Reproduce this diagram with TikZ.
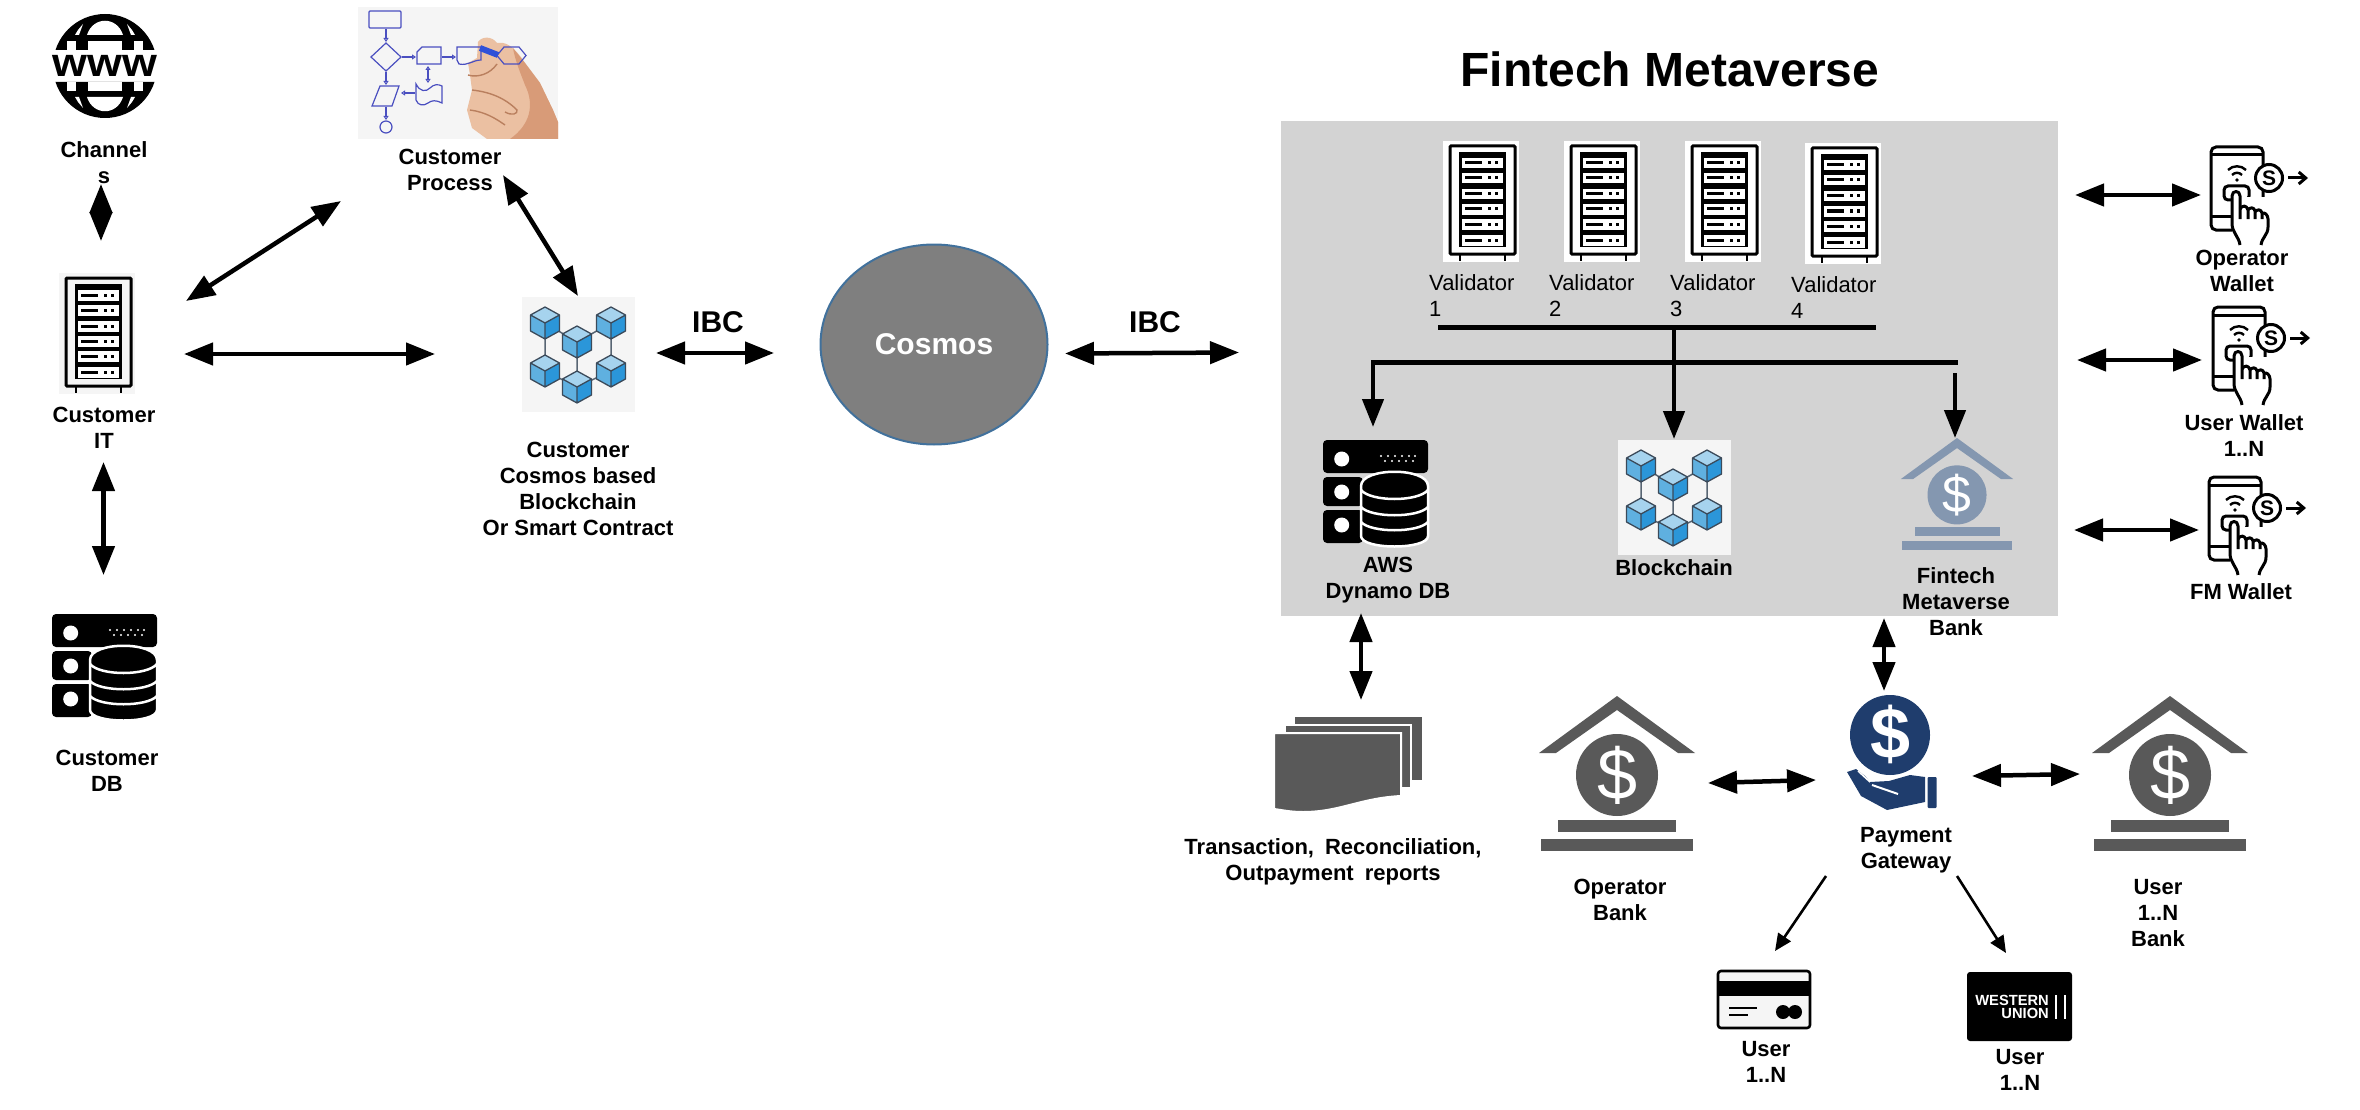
\documentclass[tikz,border=0pt]{standalone}
\usepackage{fontspec}
\setmainfont{Liberation Sans}
\usetikzlibrary{arrows.meta,shapes.geometric}
\definecolor{panelgray}{HTML}{D3D3D3}
\definecolor{imgbg}{HTML}{F5F5F5}
\definecolor{darkgray}{HTML}{595959}
\definecolor{bankblue}{HTML}{8497B0}
\definecolor{navy}{HTML}{1F3D6D}
\definecolor{flow}{HTML}{4A4FC0}
\definecolor{skin}{HTML}{EBC0A2}
\definecolor{skindark}{HTML}{D89B78}
\definecolor{skinline}{HTML}{B97F5E}
\definecolor{penblue}{HTML}{2F50D8}
\definecolor{cubetop}{HTML}{A6D3EE}
\definecolor{cubeleft}{HTML}{5FB0E0}
\definecolor{cuberight}{HTML}{2B96D9}
\definecolor{cubeline}{HTML}{3B4A5A}
\definecolor{cosmosfill}{HTML}{7F7F7F}
\definecolor{cosmosline}{HTML}{41719C}
\newcommand\bcube[2]{%
  \begin{scope}[shift={(#1,#2)}]
    \fill[cubetop] (0,-16)--(14.5,-8)--(0,0)--(-14.5,-8)--cycle;
    \fill[cubeleft] (-14.5,-8)--(0,0)--(0,16)--(-14.5,8)--cycle;
    \fill[cuberight] (14.5,-8)--(0,0)--(0,16)--(14.5,8)--cycle;
    \draw[cubeline,line width=1.3pt,line join=round] (0,-16)--(14.5,-8)--(14.5,8)--(0,16)--(-14.5,8)--(-14.5,-8)--cycle (-14.5,-8)--(0,0)--(14.5,-8) (0,0)--(0,16);
  \end{scope}}
\tikzset{
  lbl/.style={font=\bfseries\fontsize{22}{26}\selectfont,align=center,inner sep=0pt,text=black},
  vallbl/.style={font=\fontsize{22}{26}\selectfont,align=left,inner sep=0pt,anchor=west,text=black},
  ibc/.style={font=\bfseries\fontsize{30}{34}\selectfont,inner sep=0pt},
  bi/.style={line width=4.5pt,{Triangle[length=29pt,width=22pt]}-{Triangle[length=29pt,width=22pt]}},
  down/.style={line width=4.5pt,-{Triangle[length=28pt,width=21pt]}},
  thin arrow/.style={line width=2.6pt,-{Triangle[length=17pt,width=15pt]}},
  flowline/.style={draw=flow,line width=1.2pt},
  flowarrow/.style={flow,line width=1.1pt,{Triangle[open,length=4pt,width=5pt]}-{Triangle[open,length=4pt,width=5pt]}},
  flowhead/.style={flow,line width=1.1pt,-{Triangle[open,length=4pt,width=5pt]}},
  pics/rack/.style={code={
    \fill[#1] (0,0) rectangle (76,121);
    \draw[black,line width=3pt,rounded corners=1pt] (7,5) rectangle (72,113);
    \draw[black,line width=2.5pt] (17,113)--(17,120) (62,113)--(62,120);
    \fill[black] (16,11) rectangle (63,106);
    \foreach \yy in {17,32,48,63,78,94}{
      \fill[white] (19,\yy) rectangle +(41,10.5);
      \fill[black] (22,\yy+3.5) rectangle +(17,3);
      \fill[black] (45,\yy+3.5) rectangle +(3,3);
      \fill[black] (52,\yy+3.5) rectangle +(3,3);
    }
  }},
  pics/chain/.style={code={
    \fill[imgbg] (0,0) rectangle (113,115);
    \draw[cubeline!85,line width=1.5pt] (23,26)--(55,45)--(89,26) (23,26)--(23,74)--(55,90)--(89,74)--(89,26) (55,45)--(55,90);
    \bcube{23}{26}\bcube{89}{26}\bcube{55}{45}\bcube{23}{74}\bcube{89}{74}\bcube{55}{90}
  }},
  pics/bank/.style={code={
    \fill[#1] (0,0)--(78,57)--(61,57)--(0,14)--(-61,57)--(-78,57)--cycle;
    \fill[#1] (0,79) circle[radius=41];
    \fill[#1] (-59,124) rectangle (59,136);
    \fill[#1] (-76,143) rectangle (76,155);
    \node[transform shape,text=white,inner sep=0pt,font=\fontsize{72}{72}\selectfont] (-d) at (0,79) {\$};
  }},
  pics/phone/.style={code={
    \fill[white] (0,0) rectangle (52,83);
    \draw[black,line width=3pt,rounded corners=5pt] (0,0) rectangle (52,83);
    \draw[black,line width=3pt] (0,8)--(52,8) (0,69)--(24,69);
    \draw[black,line width=2.4pt] (17,23) .. controls (22,18) and (30,18) .. (35,23);
    \draw[black,line width=2.4pt] (21,28) .. controls (24,25) and (28,25) .. (31,28);
    \fill[black] (26,33) circle[radius=1.8];
    \draw[black,line width=3pt,rounded corners=4pt] (13,39) rectangle (38,53);
    \fill[white] (21,50) rectangle (60,98);
    \draw[black,line width=3pt,line join=round] (29,98) .. controls (28,90) and (21,85) .. (21,77) -- (21,49) .. controls (21,43) and (29,43) .. (29,49) -- (29,62) -- (29,72);
    \draw[black,line width=3pt,line join=round] (29,62) .. controls (31,58) and (36,58) .. (37,63) -- (37,72) (37,63) .. controls (39,60) and (43,60) .. (44,64) -- (44,72) (44,65) .. controls (46,62) and (50,62) .. (51,66) -- (51,72) (51,67) .. controls (53,64) and (57,68) .. (57,72) -- (57,80) .. controls (57,88) and (51,90) .. (50,98);
    \draw[black,fill=white,line width=3pt] (58,31) circle[radius=13.5];
    \node[inner sep=0pt,font=\bfseries\fontsize{21}{21}\selectfont] (-s) at (58,31) {S};
    \coordinate (-a) at (77,31);
    \coordinate (-b) at (97,31);
    \draw[black,line width=3pt,-{Straight Barb[length=7pt,width=12pt]}] (-a)--(-b);
  }},
  pics/db/.style={code={
    \fill[black,rounded corners=4pt] (0,0) rectangle (105,33);
    \fill[black,rounded corners=4pt] (0,37) rectangle (40,66);
    \fill[black,rounded corners=4pt] (0,70) rectangle (40,103);
    \foreach \yy in {19,52,85} \fill[white] (18.7,\yy) circle[radius=7.5];
    \foreach \xx in {58,65,72,79,86,92} \fill[white] (\xx,16) circle[radius=1.1];
    \foreach \xx in {62,69,76,83,90} \fill[white] (\xx,21) circle[radius=1.1];
    \draw[white,fill=black,line width=2.5pt] (38,46) .. controls (38,27) and (105,27) .. (105,46) -- (105,96) .. controls (105,110) and (38,110) .. (38,96) -- cycle;
    \draw[white,line width=2.5pt] (38,50) .. controls (48,62) and (95,62) .. (105,50);
    \draw[white,line width=2.5pt] (38,67) .. controls (48,78) and (95,78) .. (105,67);
    \draw[white,line width=2.5pt] (38,82) .. controls (48,93) and (95,93) .. (105,82);
  }},
}
\begin{document}
\begin{tikzpicture}[x=1pt,y=-1pt,line cap=butt]
\useasboundingbox (0,0) rectangle (2360,1110);
% free arrow ends
\coordinate (chA) at (101,184); \coordinate (chB) at (101,241);
\coordinate (itdA) at (103.5,462); \coordinate (itdB) at (103.5,575);
\coordinate (itpA) at (186,301); \coordinate (itpB) at (341,201);
\coordinate (itcA) at (184,354); \coordinate (itcB) at (435,354);
\coordinate (pcA) at (503,175); \coordinate (pcB) at (578,296);
\coordinate (ibcA) at (656,353); \coordinate (ibcB) at (774,353);
\coordinate (ibdA) at (1065,353.5); \coordinate (ibdB) at (1239,352.5);
\coordinate (busL) at (1438,327); \coordinate (busR) at (1876,327);
\coordinate (busT) at (1674,327); \coordinate (busC) at (1674,439);
\coordinate (hubL) at (1371,362); \coordinate (hubR) at (1958,362);
\coordinate (hubD) at (1373,427); \coordinate (fmT) at (1955,373); \coordinate (fmB) at (1955,438);
\coordinate (w1A) at (2075,195); \coordinate (w1B) at (2201,195);
\coordinate (w2A) at (2077,360); \coordinate (w2B) at (2202,360);
\coordinate (w3A) at (2074,530); \coordinate (w3B) at (2199,530);
\coordinate (repA) at (1361,613); \coordinate (repB) at (1361,700);
\coordinate (gwA) at (1884,618); \coordinate (gwB) at (1884,691);
\coordinate (obA) at (1708,783); \coordinate (obB) at (1816,780);
\coordinate (ubA) at (1972,776); \coordinate (ubB) at (2080,774);
\coordinate (tcA) at (1826,876); \coordinate (tcB) at (1775,951);
\coordinate (twA) at (1957,876); \coordinate (twB) at (2006,953);
% panel
\fill[panelgray] (1281,121) rectangle (2058,616);
% globe
\begin{scope}
  \clip (40,0) rectangle (170,50) (40,82) rectangle (170,130);
  \fill[black] (105,66) circle[radius=52];
  \fill[white] (87,35) .. controls (93,16) and (117,16) .. (123,35) -- cycle;
  \fill[white] (88,41) rectangle (122,52);
  \fill[white] (78,30)--(83,24)--(79,35)--(75,35)--cycle;
  \fill[white] (132,30)--(127,24)--(131,35)--(135,35)--cycle;
  \fill[white] (67,41) rectangle (76,52);
  \fill[white] (134,41) rectangle (143,52);
  \fill[white] (87,97) .. controls (93,116) and (117,116) .. (123,97) -- cycle;
  \fill[white] (88,80) rectangle (122,91);
  \fill[white] (78,102)--(83,108)--(79,97)--(75,97)--cycle;
  \fill[white] (132,102)--(127,108)--(131,97)--(135,97)--cycle;
  \fill[white] (67,80) rectangle (76,91);
  \fill[white] (134,80) rectangle (143,91);
\end{scope}
\node[inner sep=0pt,font=\bfseries\fontsize{40}{40}\selectfont] (www) at (105,66) {\scalebox{1.12}[1]{www}};
\node[lbl] (channels) at (104,163) {Channel\\s};
\draw[bi] (chA)--(chB);
% customer process image
\fill[imgbg] (358,7) rectangle (558,139);
\draw[flowline,rounded corners=1pt] (369,11) rectangle (401,28);
\draw[flowline] (371,57)--(386,43)--(401,57)--(386,71)--cycle;
\draw[flowline] (417,52)--(422,47)--(441,47)--(441,64)--(417,64)--cycle;
\draw[flowline] (380,86)--(399,86)--(392,106)--(372,106)--cycle;
\draw[flowline] (416,84) .. controls (420,92) and (426,92) .. (430,88) .. controls (434,84) and (438,84) .. (442,86) -- (442,103) .. controls (436,100) and (432,100) .. (428,103) .. controls (424,106) and (418,106) .. (416,100) -- cycle;
\draw[flowline] (386,127) circle[radius=6];
\draw[flowhead] (386,29)--(386,42);
\draw[flowhead] (386,72)--(386,85);
\draw[flowhead] (386,107)--(386,120);
\draw[flowhead] (402,57)--(416,57);
\draw[flowhead] (442,57)--(456,57);
\draw[flowhead] (415,93)--(401,93);
\draw[flowarrow] (428,66)--(428,83);
\fill[skin] (478,42) .. controls (482,36) and (492,36) .. (497,43) -- (503,43) .. controls (510,44) and (518,52) .. (525,63) -- (540,83) -- (553,110) -- (558,122) -- (558,139) -- (487,139) -- (472,128) -- (467,110) -- (472,90) -- (470,75) -- (468,63) -- (477,58) -- cycle;
\fill[skindark] (513,48) -- (525,63) -- (540,83) -- (553,110) -- (558,122) -- (558,139) -- (510,139) .. controls (530,125) and (535,105) .. (525,85) .. controls (520,72) and (515,60) .. (513,48) -- cycle;
\draw[skinline,line width=1.4pt] (472,90) .. controls (490,92) and (505,98) .. (517,110) .. controls (518,114) and (512,116) .. (505,112)
  (470,110) .. controls (485,112) and (495,118) .. (505,125)
  (468,75) .. controls (478,78) and (490,74) .. (497,64);
\draw[flowline] (457,47)--(481,47)--(481,60) .. controls (473,60) and (468,66) .. (459,64) -- (457,60)--cycle;
\draw[flowline] (497,55.5)--(504,47)--(519,47)--(526,55.5)--(519,64)--(504,64)--cycle;
\draw[penblue,line width=6pt] (480,48)--(498,55);
\node[lbl] (process) at (450,170) {Customer\\Process};
\draw[bi] (itpA)--(itpB);
\draw[bi] (pcA)--(pcB);
% customer IT
\pic (itrack) at (59,273) {rack=imgbg};
\node[lbl] (it) at (104,428) {Customer\\IT};
\draw[bi] (itcA)--(itcB);
\draw[bi] (itdA)--(itdB);
\pic (custdb) at (52,614) {db};
\node[lbl] (cdb) at (107,771) {Customer\\DB};
% customer chain
\pic (custchain) at (522,297) {chain};
\node[lbl] (ccl) at (578,489) {Customer\\Cosmos based\\Blockchain\\Or Smart Contract};
\draw[bi] (ibcA)--(ibcB);
\node[ibc] (ibc1) at (718,322) {IBC};
% cosmos
\node[ellipse,draw=cosmosline,line width=2pt,fill=cosmosfill,minimum width=227pt,minimum height=200pt,inner sep=0pt,text=white,font=\bfseries\fontsize{30}{34}\selectfont] (cosmos) at (934,344.5) {Cosmos};
\draw[bi] (ibdA)--(ibdB);
\node[ibc] (ibc2) at (1155,322) {IBC};
\node[inner sep=0pt,font=\bfseries\fontsize{48}{52}\selectfont] (title) at (1670,69) {Fintech Metaverse};
% validators
\pic (v1) at (1443,141) {rack=white};
\pic (v2) at (1564,141) {rack=white};
\pic (v3) at (1685,141) {rack=white};
\pic (v4) at (1805,143) {rack=white};
\node[vallbl] (vl1) at (1429,296) {Validator\\1};
\node[vallbl] (vl2) at (1549,296) {Validator\\2};
\node[vallbl] (vl3) at (1670,296) {Validator\\3};
\node[vallbl] (vl4) at (1791,298) {Validator\\4};
\draw[black,line width=5pt] (busL)--(busR);
\draw[down] (busT)--(busC);
\draw[black,line width=5pt] (hubL)--(hubR);
\draw[down] (1373,360)--(hubD);
\draw[down] (fmT)--(fmB);
\pic (dyn) at (1323,440) {db};
\node[lbl] (awsl) at (1388,580) {AWS\\Dynamo DB};
\pic (mainchain) at (1618,440) {chain};
\node[lbl] (bcl) at (1674,568) {Blockchain};
\pic[scale=.72] (fmbank) at (1957,438) {bank=bankblue};
\node[lbl] (fml) at (1956,602) {Fintech\\Metaverse\\Bank};
% wallets
\draw[bi] (w1A)--(w1B);
\draw[bi] (w2A)--(w2B);
\draw[bi] (w3A)--(w3B);
\pic (ph1) at (2211,147) {phone};
\pic (ph2) at (2213,307) {phone};
\pic (ph3) at (2209,477) {phone};
\node[lbl] (wl1) at (2242,271) {Operator\\Wallet};
\node[lbl] (wl2) at (2244,436) {User Wallet\\1..N};
\node[lbl] (wl3) at (2241,592) {FM Wallet};
% reports
\draw[bi] (repA)--(repB);
\fill[darkgray] (1295,717) rectangle (1422,780);
\draw[white,fill=darkgray,line width=2pt] (1285,725) rectangle (1411,788);
\draw[white,fill=darkgray,line width=2pt] (1274,733)--(1401,733)--(1401,796) .. controls (1360,798) and (1340,812) .. (1303,812) .. controls (1290,812) and (1282,810) .. (1274,809) -- cycle;
\node[lbl] (repl) at (1333,862) {Transaction,\hspace{11pt}Reconciliation,\\Outpayment\hspace{11pt}reports};
\pic (opbank) at (1617,696) {bank=darkgray};
\node[lbl] (obl) at (1620,900) {Operator\\Bank};
\draw[bi] (gwA)--(gwB);
% gateway
\fill[navy] (1890,735) circle[radius=40];
\node[inner sep=0pt,text=white,font=\bfseries\fontsize{72}{72}\selectfont] (gwd) at (1890,734) {\$};
\begin{scope}[shift={(-2,-1)}]
\fill[navy] (1849,773)--(1863,797)--(1889,811)--(1927,803)--(1927,778)--(1912,776)--(1891,782)--(1872,783)--(1867,777)--(1858,770)--cycle;
\draw[white,line width=2pt] (1874,786)--(1900,795);
\draw[white,line width=1.5pt] (1860,772)--(1872,783);
\fill[navy,rounded corners=1pt] (1929.5,778) rectangle (1938.5,809);
\end{scope}
\node[lbl] (gwl) at (1906,850) {Payment\\Gateway};
\draw[bi] (obA)--(obB);
\draw[bi] (ubA)--(ubB);
\pic (usbank) at (2170,696) {bank=darkgray};
\node[lbl] (ubl) at (2158,913) {User\\1..N\\Bank};
\draw[thin arrow] (tcA)--(tcB);
\draw[thin arrow] (twA)--(twB);
% card
\draw[black,fill=imgbg,line width=2.6pt,rounded corners=3pt] (1718,971) rectangle (1810,1028);
\fill[black] (1718,981) rectangle (1810,996);
\draw[black,line width=2.4pt] (1729,1008)--(1757,1008) (1729,1015)--(1748,1015);
\fill[black] (1783,1012) circle[radius=7] (1795,1012) circle[radius=7];
\node[lbl] (ucl) at (1766,1062) {User\\1..N};
% western union
\fill[black,rounded corners=3pt] (1967,972) rectangle (2072,1041);
\node[inner sep=0pt,anchor=east,text=white,align=right,font=\bfseries\fontsize{14.7}{13.5}\selectfont] (wu) at (2049,1007) {WESTERN\\UNION};
\draw[white,line width=2.5pt] (2056,995)--(2056,1019) (2065,995)--(2065,1019);
\node[lbl] (uwl) at (2020,1070) {User\\1..N};
\end{tikzpicture}
\end{document}
